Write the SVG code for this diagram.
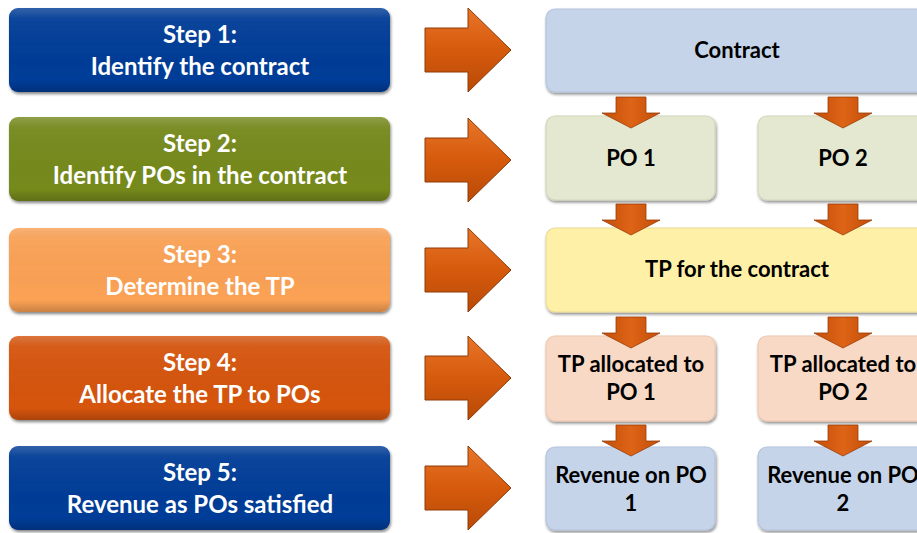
<svg xmlns="http://www.w3.org/2000/svg" width="917" height="533" viewBox="0 0 917 533">
<defs>
  <filter id="sh" x="-5%" y="-10%" width="112%" height="125%">
    <feGaussianBlur in="SourceAlpha" stdDeviation="1.5"/>
    <feOffset dx="1" dy="2" result="b"/>
    <feComponentTransfer><feFuncA type="linear" slope="0.45"/></feComponentTransfer>
    <feMerge><feMergeNode/><feMergeNode in="SourceGraphic"/></feMerge>
  </filter>
  <linearGradient id="gloss" x1="0" y1="0" x2="0" y2="1">
    <stop offset="0" stop-color="#fff" stop-opacity="0.18"/>
    <stop offset="0.12" stop-color="#fff" stop-opacity="0.04"/>
    <stop offset="0.85" stop-color="#000" stop-opacity="0"/>
    <stop offset="1" stop-color="#000" stop-opacity="0.15"/>
  </linearGradient>
  <linearGradient id="arrH" x1="0" y1="0" x2="0" y2="1">
    <stop offset="0" stop-color="#E8752A"/>
    <stop offset="0.5" stop-color="#D65A0C"/>
    <stop offset="1" stop-color="#B84A08"/>
  </linearGradient>
  <linearGradient id="arrV" x1="0" y1="0" x2="1" y2="0">
    <stop offset="0" stop-color="#C24E0A"/>
    <stop offset="0.5" stop-color="#DE6416"/>
    <stop offset="1" stop-color="#C24E0A"/>
  </linearGradient>
  <path id="bigArrow" d="M425,-22 H468 V-42 L511,0 L468,42 V22 H425 Z"/>
  <path id="smallArrow" d="M-15,0 H15 V16 H29 L0,31 L-29,16 H-15 Z"/>
</defs>
<style>
  .step rect { filter: url(#sh); }
  .st { font-family: Lato, "Open Sans", "Liberation Sans", sans-serif; font-weight: bold; font-size: 24px; fill: #fff; text-anchor: middle; }
  .nt { font-family: Lato, "Open Sans", "Liberation Sans", sans-serif; font-weight: bold; font-size: 22px; fill: #000; text-anchor: middle; }
  .node rect.b { stroke-width: 1.2; filter: url(#sh); }
  .big { fill: url(#arrH); stroke: #8E3A06; stroke-width: 1; }
  .sm { fill: url(#arrV); stroke: #9A3E07; stroke-width: 0.8; }
</style>
<rect width="917" height="533" fill="#fff"/>

<g id="step1" class="step">
  <rect x="9" y="8" width="381" height="84" rx="9" fill="#063C98"/>
  <rect x="9" y="8" width="381" height="84" rx="9" fill="url(#gloss)"/>
  <text class="st" x="200" y="43">Step 1:</text>
  <text class="st" x="200" y="75">Identify the contract</text>
</g>
<g id="step2" class="step">
  <rect x="9" y="117" width="381" height="84" rx="9" fill="#768A1A"/>
  <rect x="9" y="117" width="381" height="84" rx="9" fill="url(#gloss)"/>
  <text class="st" x="200" y="152">Step 2:</text>
  <text class="st" x="200" y="184">Identify POs in the contract</text>
</g>
<g id="step3" class="step">
  <rect x="9" y="228" width="381" height="84" rx="9" fill="#FBA255"/>
  <rect x="9" y="228" width="381" height="84" rx="9" fill="url(#gloss)"/>
  <text class="st" x="200" y="263">Step 3:</text>
  <text class="st" x="200" y="295">Determine the TP</text>
</g>
<g id="step4" class="step">
  <rect x="9" y="336" width="381" height="84" rx="9" fill="#D65508"/>
  <rect x="9" y="336" width="381" height="84" rx="9" fill="url(#gloss)"/>
  <text class="st" x="200" y="371">Step 4:</text>
  <text class="st" x="200" y="403">Allocate the TP to POs</text>
</g>
<g id="step5" class="step">
  <rect x="9" y="446" width="381" height="84" rx="9" fill="#063C98"/>
  <rect x="9" y="446" width="381" height="84" rx="9" fill="url(#gloss)"/>
  <text class="st" x="200" y="481">Step 5:</text>
  <text class="st" x="200" y="513">Revenue as POs satisfied</text>
</g>

<g id="contract" class="node">
  <rect class="b" x="546" y="9" width="382" height="83" rx="9" fill="#C6D4EA" stroke="#B3C3DD"/>
  <text class="nt" x="737" y="58">Contract</text>
</g>
<g id="po1" class="node">
  <rect class="b" x="546" y="116" width="169" height="84" rx="9" fill="#E4E8D0" stroke="#D2D8BA"/>
  <text class="nt" x="631" y="166">PO 1</text>
</g>
<g id="po2" class="node">
  <rect class="b" x="758" y="116" width="170" height="84" rx="9" fill="#E4E8D0" stroke="#D2D8BA"/>
  <text class="nt" x="843" y="166">PO 2</text>
</g>
<g id="tp" class="node">
  <rect class="b" x="546" y="228" width="382" height="84" rx="9" fill="#FFF0A8" stroke="#EBDB95"/>
  <text class="nt" x="737" y="277">TP for the contract</text>
</g>
<g id="tpa1" class="node">
  <rect class="b" x="546" y="336" width="169" height="85" rx="9" fill="#F8D9C5" stroke="#EEC8AE"/>
  <text class="nt" x="631" y="372">TP allocated to</text>
  <text class="nt" x="631" y="400">PO 1</text>
</g>
<g id="tpa2" class="node">
  <rect class="b" x="758" y="336" width="170" height="85" rx="9" fill="#F8D9C5" stroke="#EEC8AE"/>
  <text class="nt" x="843" y="372">TP allocated to</text>
  <text class="nt" x="843" y="400">PO 2</text>
</g>
<g id="rev1" class="node">
  <rect class="b" x="546" y="447" width="169" height="83" rx="9" fill="#C6D4EA" stroke="#B3C3DD"/>
  <text class="nt" x="631" y="483">Revenue on PO</text>
  <text class="nt" x="631" y="511">1</text>
</g>
<g id="rev2" class="node">
  <rect class="b" x="758" y="447" width="170" height="83" rx="9" fill="#C6D4EA" stroke="#B3C3DD"/>
  <text class="nt" x="843" y="483">Revenue on PO</text>
  <text class="nt" x="843" y="511">2</text>
</g>

<g id="connectors">
  <use href="#bigArrow" class="big" transform="translate(0,50)"/>
  <use href="#bigArrow" class="big" transform="translate(0,160)"/>
  <use href="#bigArrow" class="big" transform="translate(0,270)"/>
  <use href="#bigArrow" class="big" transform="translate(0,378)"/>
  <use href="#bigArrow" class="big" transform="translate(0,488)"/>
  <use href="#smallArrow" class="sm" transform="translate(631,97)"/>
  <use href="#smallArrow" class="sm" transform="translate(843,97)"/>
  <use href="#smallArrow" class="sm" transform="translate(631,204)"/>
  <use href="#smallArrow" class="sm" transform="translate(843,204)"/>
  <use href="#smallArrow" class="sm" transform="translate(631,317)"/>
  <use href="#smallArrow" class="sm" transform="translate(843,317)"/>
  <use href="#smallArrow" class="sm" transform="translate(631,425)"/>
  <use href="#smallArrow" class="sm" transform="translate(843,425)"/>
</g>
</svg>
